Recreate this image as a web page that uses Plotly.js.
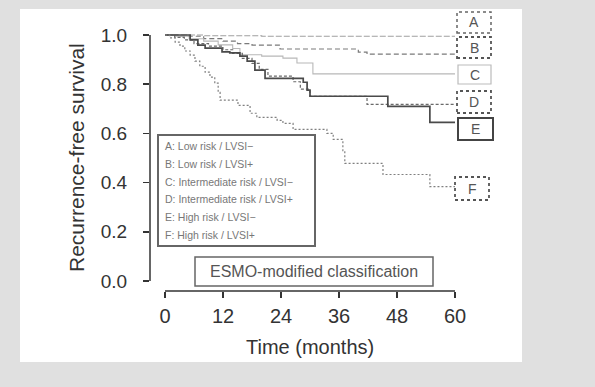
<!DOCTYPE html>
<html>
<head>
<meta charset="utf-8">
<script src="https://cdn.plot.ly/plotly-3.0.1.min.js"></script>
<style>html,body{margin:0;padding:0;background:#e0e0e0;}#chart{width:595px;height:387px;}</style>
</head>
<body>
<div id="chart"></div>
<script>
// ---- data ----
const groupKeys = ["A", "B", "C", "D", "E", "F"];
const groupNames = ["A: Low risk / LVSI\u2212", "B: Low risk / LVSI+", "C: Intermediate risk / LVSI\u2212",
                    "D: Intermediate risk / LVSI+", "E: High risk / LVSI\u2212", "F: High risk / LVSI+"];
const tA = [0, 8, 20, 60];
const sA = [1, 0.997, 0.995, 0.995];
const tB = [0, 3, 8, 12, 15, 18, 23.8, 40, 41.8, 60];
const sB = [1, 0.995, 0.985, 0.975, 0.965, 0.959, 0.943, 0.93, 0.922, 0.922];
const tC = [0, 2, 5, 8, 11, 14, 15.5, 20, 24.4, 27.3, 30.6, 60];
const sC = [1, 0.995, 0.985, 0.975, 0.96, 0.945, 0.92, 0.914, 0.906, 0.886, 0.842, 0.842];
const tD = [0, 2, 4, 6, 9, 12, 14, 16, 18, 19.5, 21.3, 26.5, 28, 30, 41.8, 60];
const sD = [1, 0.99, 0.98, 0.965, 0.955, 0.94, 0.925, 0.905, 0.885, 0.86, 0.833, 0.81, 0.78, 0.751, 0.718, 0.718];
const tE = [0, 5.2, 6.8, 8.3, 11.8, 13.4, 15.5, 17.0, 18.6, 20.7, 28.6, 29.4, 30.0, 46.1, 54.8, 60];
const sE = [1, 0.98, 0.959, 0.947, 0.931, 0.927, 0.914, 0.894, 0.857, 0.824, 0.808, 0.776, 0.751, 0.71, 0.645, 0.645];
const tF = [0, 1.0, 2.1, 3.1, 4.1, 5.2, 6.2, 7.2, 8.3, 9.3, 10.3, 11.0, 11.4, 15.1, 17.6, 19.0, 23.2, 24.4, 26.5, 33.5, 34.8, 36.8, 37.2, 45.1, 54.8, 60];
const sF = [1, 0.988, 0.971, 0.955, 0.935, 0.918, 0.894, 0.873, 0.849, 0.829, 0.804, 0.767, 0.735, 0.714, 0.682, 0.665, 0.653, 0.641, 0.616, 0.600, 0.576, 0.53, 0.478, 0.433, 0.384, 0.384];
const xTicks = [0, 12, 24, 36, 48, 60];
const yTicks = [0, 0.2, 0.4, 0.6, 0.8, 1.0];
const xTitle = "Time (months)";
const yTitle = "Recurrence-free survival";
const boxTitle = "ESMO-modified classification";

// ---- styles ----
const times = [tA, tB, tC, tD, tE, tF];
const survs = [sA, sB, sC, sD, sE, sF];
const lineStyles = [
  {color: "#a0a0a0", width: 1.2, dash: "6px,2px"},
  {color: "#7a7a7a", width: 1.2, dash: "5px,3px"},
  {color: "#b8b8b8", width: 1.1, dash: "solid"},
  {color: "#6a6a6a", width: 1.2, dash: "3px,2px"},
  {color: "#4a4a4a", width: 1.7, dash: "solid"},
  {color: "#808080", width: 1.2, dash: "2px,2px"}
];
const traces = times.map((t, i) => ({
  x: t, y: survs[i], type: "scatter", mode: "lines", name: groupNames[i],
  line: Object.assign({shape: "hv"}, lineStyles[i]), showlegend: false, hoverinfo: "skip"
}));

// plot area in pixels
const L = 150, R = 462, T = 30, B = 291, W = 595, H = 387;
const px = x => (x - L) / (R - L);
const py = y => (B - y) / (B - T);
// axis ranges so that 0 -> 165px, 60 -> 455px ; 1.0 -> 35px, 0.0 -> 281px
const xppm = (455 - 165) / 60, yppu = 281 - 35;
const xr = [-(165 - L) / xppm, 60 + (R - 455) / xppm];
const yr = [-(B - 281) / yppu, 1 + (35 - T) / yppu];

const FONT = "Liberation Sans, Arial, Helvetica, sans-serif";
const shapes = [];
const annotations = [];
// white page behind chart
shapes.push({type: "rect", xref: "paper", yref: "paper", x0: px(20), x1: px(522), y0: py(362), y1: py(9),
  line: {width: 0}, fillcolor: "#ffffff", layer: "below"});
// axis lines (R style, only across data span)
shapes.push({type: "line", xref: "x", yref: "paper", x0: 0, x1: 60, y0: 0, y1: 0, line: {color: "#333", width: 1.5}});
shapes.push({type: "line", xref: "paper", yref: "y", x0: 0, x1: 0, y0: 0, y1: 1, line: {color: "#333", width: 1.5}});

// right-side group label boxes
const labBoxes = [
  {x0: 457, x1: 491, y0: 12, y1: 33, lc: "#666", lw: 1.5, dash: "dot"},
  {x0: 457, x1: 491, y0: 37, y1: 58, lc: "#555", lw: 1.8, dash: "dot"},
  {x0: 458, x1: 491, y0: 65, y1: 84, lc: "#bbb", lw: 1.2, dash: "solid"},
  {x0: 457, x1: 491, y0: 91, y1: 113, lc: "#555", lw: 1.8, dash: "dot"},
  {x0: 458, x1: 493, y0: 118, y1: 140, lc: "#444", lw: 2, dash: "solid"},
  {x0: 455, x1: 489, y0: 177, y1: 200, lc: "#555", lw: 1.8, dash: "dot"}
];
labBoxes.forEach((b, i) => {
  shapes.push({type: "rect", xref: "paper", yref: "paper", x0: px(b.x0), x1: px(b.x1), y0: py(b.y1), y1: py(b.y0),
    line: {color: b.lc, width: b.lw, dash: b.dash}, fillcolor: "rgba(255,255,255,0)"});
  annotations.push({xref: "paper", yref: "paper", x: px((b.x0 + b.x1) / 2), y: py((b.y0 + b.y1) / 2),
    text: groupKeys[i], showarrow: false, xanchor: "center", yanchor: "middle",
    font: {family: FONT, size: 14, color: "#555"}});
});

// legend box
shapes.push({type: "rect", xref: "paper", yref: "paper", x0: px(158), x1: px(315), y0: py(246), y1: py(135),
  line: {color: "#666", width: 2}, fillcolor: "#ffffff"});
const legY = [146, 164, 182, 199, 217, 235];
groupNames.forEach((n, i) => {
  annotations.push({xref: "paper", yref: "paper", x: px(163), y: py(legY[i]), text: n, showarrow: false,
    xanchor: "left", yanchor: "middle", font: {family: FONT, size: 10.5, color: "#777"}});
});

// ESMO box
shapes.push({type: "rect", xref: "paper", yref: "paper", x0: px(195), x1: px(433), y0: py(286), y1: py(257),
  line: {color: "#666", width: 1.5}, fillcolor: "#ffffff"});
annotations.push({xref: "paper", yref: "paper", x: px(314), y: py(271.5), text: boxTitle, showarrow: false,
  xanchor: "center", yanchor: "middle", font: {family: FONT, size: 16, color: "#555"}});

// axis titles
annotations.push({xref: "paper", yref: "paper", x: px(310), y: py(347), text: xTitle, showarrow: false,
  xanchor: "center", yanchor: "middle", font: {family: FONT, size: 20, color: "#333"}});
annotations.push({xref: "paper", yref: "paper", x: px(76), y: py(158), text: yTitle, showarrow: false,
  textangle: -90, xanchor: "center", yanchor: "middle", font: {family: FONT, size: 21, color: "#333"}});

const layout = {
  width: W, height: H,
  margin: {l: L, r: W - R, t: T, b: H - B, pad: 0},
  paper_bgcolor: "#e0e0e0", plot_bgcolor: "rgba(0,0,0,0)",
  xaxis: {range: xr, tickvals: xTicks, ticktext: xTicks.map(String), ticks: "outside", ticklen: 6,
    tickwidth: 1.5, tickcolor: "#333", showline: false, showgrid: false, zeroline: false,
    ticklabelstandoff: 1, tickfont: {family: FONT, size: 20, color: "#333"}, fixedrange: true},
  yaxis: {range: yr, tickvals: yTicks, ticktext: yTicks.map(v => v.toFixed(1)), ticks: "outside", ticklen: 6,
    tickwidth: 1.5, tickcolor: "#333", showline: false, showgrid: false, zeroline: false,
    ticklabelstandoff: 12, tickfont: {family: FONT, size: 19, color: "#333"}, fixedrange: true},
  shapes: shapes, annotations: annotations, showlegend: false
};
Plotly.newPlot("chart", traces, layout, {staticPlot: true, displayModeBar: false});
</script>
</body>
</html>
